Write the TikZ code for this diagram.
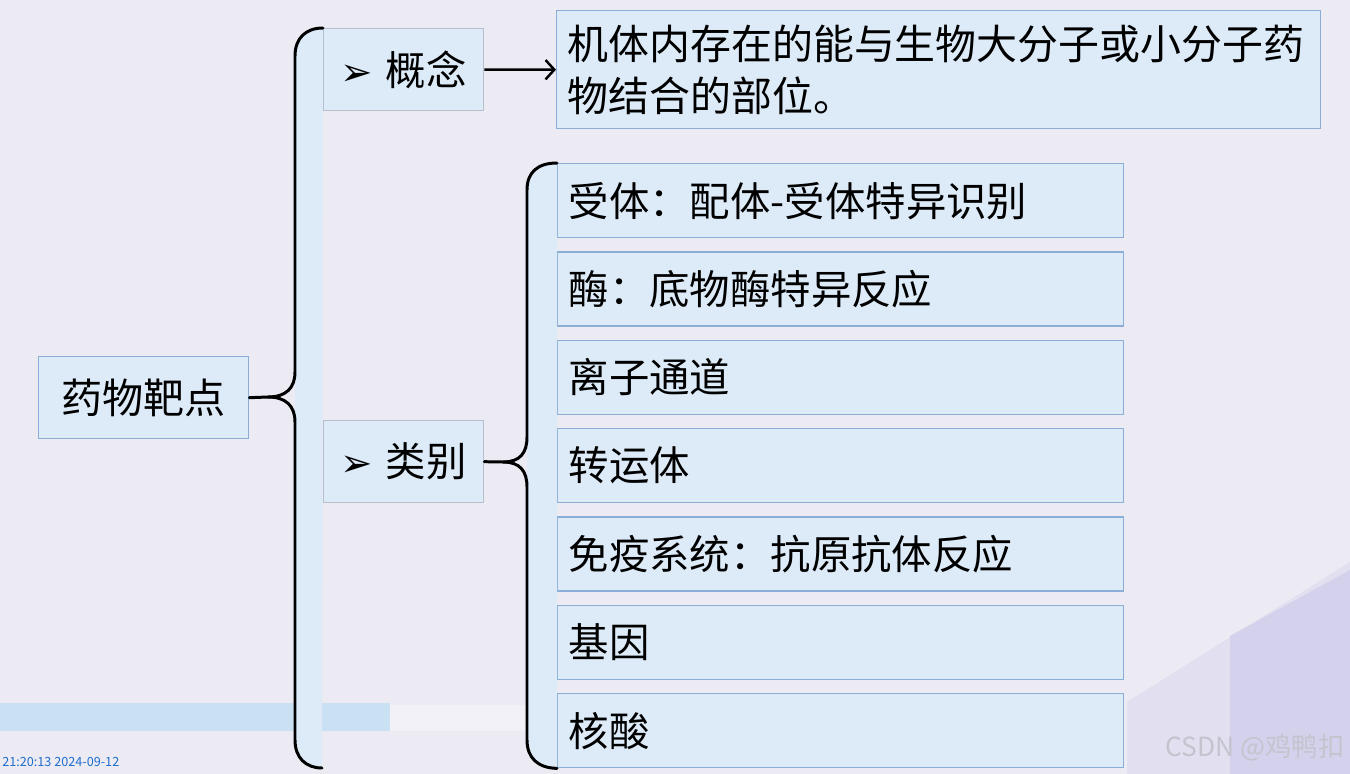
\documentclass[tikz,border=0pt]{standalone}
\usepackage{fontspec}
\setmainfont{Noto Sans CJK SC}
\newfontfamily\symfont{DejaVu Sans}
\usetikzlibrary{arrows.meta}

\definecolor{bgcol}{RGB}{236,234,243}
\definecolor{boxfill}{RGB}{221,235,248}
\definecolor{boxline}{RGB}{138,174,214}
\definecolor{grayline}{RGB}{182,192,204}
\definecolor{bandblue}{RGB}{202,225,244}
\definecolor{lilac}{RGB}{226,223,240}
\definecolor{lilacdark}{RGB}{212,209,236}
\definecolor{stampblue}{RGB}{30,110,205}
\definecolor{markgray}{RGB}{196,196,206}

\begin{document}
\begin{tikzpicture}[x=0.02cm,y=-0.02cm,
  box/.style={draw=boxline,line width=0.8pt,fill=boxfill,anchor=north west,inner sep=0pt},
  headbox/.style={box,draw=grayline,minimum width=3.2cm,minimum height=1.64cm,font=\fontsize{23}{24}\selectfont},
  catbox/.style={box,text width=10.88cm,inner xsep=0.22cm,minimum height=1.48cm,align=left,font=\fontsize{23}{24}\selectfont},
  brace/.style={line width=1.7pt,line cap=round}]

  \useasboundingbox[fill=bgcol] (0,0) rectangle (1350,774);

  % video leftovers
  \fill[bandblue] (0,703) rectangle (390,731);
  \fill[white,opacity=0.35] (390,705) rectangle (690,731);
  \fill[lilac] (1127,702)--(1350,562)--(1350,774)--(1127,774)--cycle;
  \fill[lilacdark] (1230,636)--(1350,570)--(1350,774)--(1230,774)--cycle;
  \node[anchor=west,inner sep=0pt,text=stampblue,font=\fontsize{7.2}{8}\selectfont] (stamp) at (2,762) {21:20:13 2024-09-12};
  \node[anchor=east,inner sep=0pt,text=markgray,font=\fontsize{15}{16}\selectfont] (mark) at (1345,748) {CSDN @鸡鸭扣};

  \node[box,minimum width=4.2cm,minimum height=1.64cm,font=\fontsize{23.4}{24}\selectfont] (root) at (38,356) {药物靶点};
  \node[headbox] (gn) at (323,28) {{\symfont\fontsize{22}{22}\selectfont ➢}\hspace{0.26cm}概念\hspace{0.12cm}};
  \node[headbox] (lb) at (323,420) {{\symfont\fontsize{22}{22}\selectfont ➢}\hspace{0.26cm}类别\hspace{0.12cm}};
  \node[box,text width=14.85cm,inner xsep=0.215cm,minimum height=2.36cm,align=left,font=\fontsize{23.3}{29.5}\selectfont] (def) at (556,10)
     {机体内存在的能与生物大分子或小分子药\\物结合的部位。};

  \foreach \t [count=\i] in {受体：配体-受体特异识别,酶：底物酶特异反应,离子通道,转运体,免疫系统：抗原抗体反应,基因,核酸}
    \node[catbox] (c\i) at (557,{163+88.33*(\i-1)}) {\t};

  \coordinate (end1) at (322,768);

  % brace fills
  \fill[boxfill] (gn.north west) .. controls (306,28) and (295,38) .. (295,56)--(295,740) .. controls (295,758) and (306,768) .. (end1)--cycle;
  \fill[boxfill] (c1.north west) .. controls (538,163) and (527,172) .. (527,190)--(527,740) .. controls (527,758) and (538,768) .. (c7.south west)--cycle;

  % big brace
  \draw[brace] (root.east)--(268,397) .. controls (286,397) and (295,388) .. (295,372)--(295,56) .. controls (295,38) and (306,28) .. (gn.north west);
  \draw[brace] (268,397) .. controls (286,397) and (295,406) .. (295,422)--(295,740) .. controls (295,758) and (306,768) .. (end1);

  % small brace
  \draw[brace] (lb.east)--(503,462) .. controls (520,462) and (527,453) .. (527,437)--(527,190) .. controls (527,172) and (538,163) .. (c1.north west);
  \draw[brace] (503,462) .. controls (520,462) and (527,471) .. (527,487)--(527,740) .. controls (527,758) and (538,768) .. (c7.south west);

  \draw[-{Straight Barb[length=5pt,width=11pt]},line width=1.4pt] (gn.east)--(def.west);
\end{tikzpicture}
\end{document}
